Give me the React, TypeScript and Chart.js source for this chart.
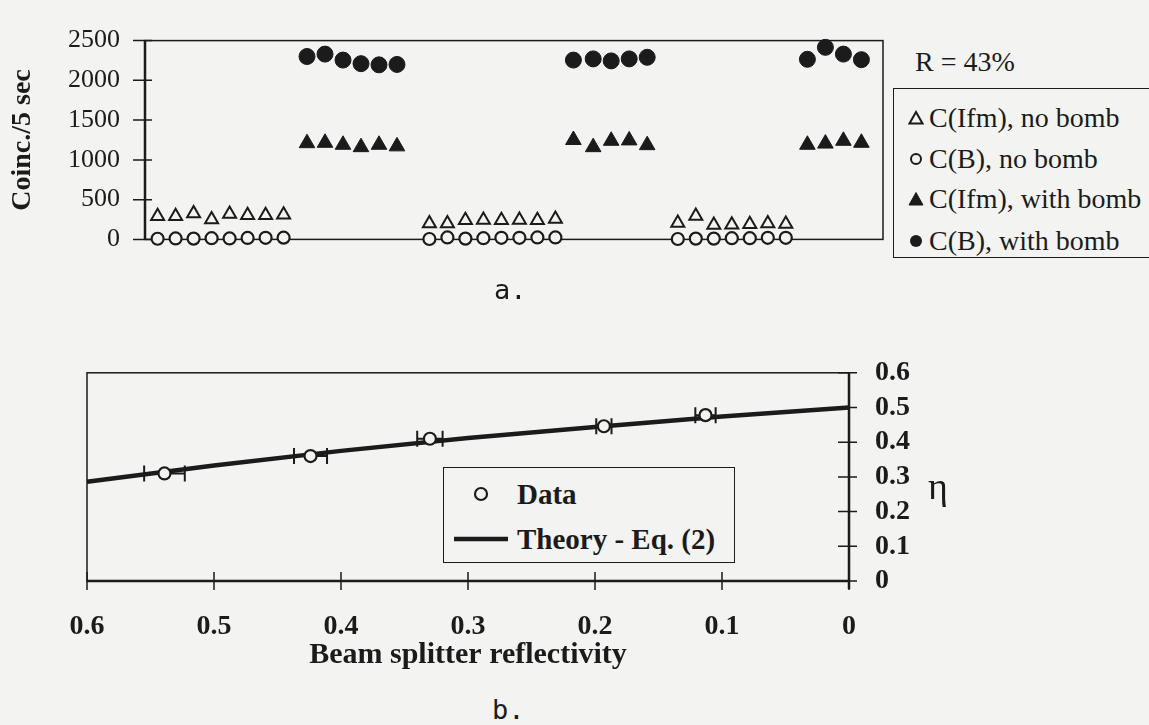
import React, { useEffect, useRef } from 'react';
import { Chart, registerables } from 'chart.js';

Chart.register(...registerables);

const BG = '#f3f3f1';
const INK = '#1b1b1b';
const SERIF = '"Liberation Serif", "Times New Roman", serif';
const MONO = '"DejaVu Sans Mono", monospace';

// ---------- Panel a: coincidence counts per 5 s, R = 43% ----------
const noBombRun = [0.7, 1.7, 2.7, 3.7, 4.7, 5.7, 6.7, 7.7, 15.8, 16.8, 17.8, 18.8, 19.8, 20.8, 21.8, 22.8, 29.6, 30.6, 31.6, 32.6, 33.6, 34.6, 35.6];
const ifmNoBomb = [290, 290, 325, 250, 320, 305, 305, 310, 200, 200, 240, 245, 240, 245, 240, 255, 205, 295, 180, 185, 190, 200, 195];
const bNoBomb = [8, 12, 10, 15, 12, 18, 20, 22, 5, 25, 10, 15, 20, 20, 25, 25, 5, 10, 10, 15, 15, 20, 20];
const withBombRun = [9, 10, 11, 12, 13, 14, 23.8, 24.9, 25.9, 26.9, 27.9, 36.8, 37.8, 38.8, 39.8];
const ifmWithBomb = [1210, 1215, 1190, 1160, 1190, 1170, 1250, 1160, 1240, 1245, 1185, 1190, 1205, 1240, 1215];
const bWithBomb = [2300, 2330, 2255, 2210, 2195, 2200, 2255, 2270, 2245, 2270, 2290, 2265, 2415, 2330, 2260];
const countTicks = [0, 500, 1000, 1500, 2000, 2500];
const seriesA = ['C(Ifm), no bomb', 'C(B), no bomb', 'C(Ifm), with bomb', 'C(B), with bomb'];

// ---------- Panel b: efficiency vs beam splitter reflectivity ----------
const reflectivity = [0.539, 0.424, 0.33, 0.193, 0.113];
const etaData = [0.31, 0.36, 0.41, 0.446, 0.478];
const reflErr = [0.016, 0.013, 0.01, 0.006, 0.008];
const theoryR = [0, 0.1, 0.2, 0.3, 0.4, 0.5, 0.6];
const theoryEta = [0.5, 0.474, 0.444, 0.412, 0.375, 0.333, 0.286];
const reflTicks = [0, 0.1, 0.2, 0.3, 0.4, 0.5, 0.6];
const etaTicks = [0, 0.1, 0.2, 0.3, 0.4, 0.5, 0.6];
const seriesB = ['Data', 'Theory - Eq. (2)'];

const pts = (xs: number[], ys: number[]) => xs.map((x, i) => ({ x, y: ys[i] }));
const fmt1 = (v: any) => String(Math.round(Number(v) * 10) / 10);

const topPlugin = {
  id: 'topFrame',
  beforeDatasetsDraw(chart: any) {
    const { ctx, chartArea: a, scales } = chart;
    const y = scales.y;
    ctx.save();
    ctx.strokeStyle = INK;
    ctx.lineWidth = 1.5;
    ctx.strokeRect(a.left, a.top, a.right - a.left, a.bottom - a.top);
    ctx.lineWidth = 2.5;
    ctx.beginPath();
    ctx.moveTo(a.left, a.top);
    ctx.lineTo(a.left, a.bottom);
    ctx.stroke();
    ctx.lineWidth = 1.5;
    ctx.beginPath();
    for (const t of countTicks) {
      const py = y.getPixelForValue(t);
      ctx.moveTo(a.left - 12, py);
      ctx.lineTo(a.left + 7, py);
    }
    ctx.stroke();
    ctx.restore();
  },
};

const bottomPlugin = {
  id: 'bottomFrame',
  beforeDatasetsDraw(chart: any) {
    const { ctx, chartArea: a, scales } = chart;
    const x = scales.x;
    const y = scales.y;
    ctx.save();
    ctx.strokeStyle = INK;
    ctx.lineWidth = 1.5;
    ctx.strokeRect(a.left, a.top, a.right - a.left, a.bottom - a.top);
    ctx.lineWidth = 2.5;
    ctx.beginPath();
    ctx.moveTo(a.right, a.top);
    ctx.lineTo(a.right, a.bottom + 8);
    ctx.moveTo(a.left, a.bottom);
    ctx.lineTo(a.right, a.bottom);
    ctx.stroke();
    ctx.lineWidth = 1.5;
    ctx.beginPath();
    for (const t of etaTicks) {
      const py = y.getPixelForValue(t);
      ctx.moveTo(a.right - 11, py);
      ctx.lineTo(a.right + 8, py);
    }
    for (const t of reflTicks) {
      const px = x.getPixelForValue(t);
      ctx.moveTo(px, a.bottom - 9);
      ctx.lineTo(px, a.bottom + 9);
    }
    ctx.stroke();
    // horizontal error bars on the data points
    ctx.lineWidth = 2;
    ctx.beginPath();
    reflectivity.forEach((r, i) => {
      const py = y.getPixelForValue(etaData[i]);
      const x1 = x.getPixelForValue(r - reflErr[i]);
      const x2 = x.getPixelForValue(r + reflErr[i]);
      ctx.moveTo(x1, py);
      ctx.lineTo(x2, py);
      ctx.moveTo(x1, py - 8);
      ctx.lineTo(x1, py + 8);
      ctx.moveTo(x2, py - 8);
      ctx.lineTo(x2, py + 8);
    });
    ctx.stroke();
    ctx.restore();
  },
};

function TopChart() {
  const ref = useRef<HTMLCanvasElement>(null);
  useEffect(() => {
    const chart = new Chart(ref.current as HTMLCanvasElement, {
      type: 'scatter',
      data: {
        datasets: [
          {
            label: seriesA[0],
            data: pts(noBombRun, ifmNoBomb),
            pointStyle: 'triangle',
            pointRadius: 7.5,
            borderWidth: 2,
            borderColor: INK,
            backgroundColor: BG,
            clip: false,
          },
          {
            label: seriesA[1],
            data: pts(noBombRun, bNoBomb),
            pointStyle: 'circle',
            pointRadius: 6,
            borderWidth: 2.2,
            borderColor: INK,
            backgroundColor: BG,
            clip: false,
          },
          {
            label: seriesA[2],
            data: pts(withBombRun, ifmWithBomb),
            pointStyle: 'triangle',
            pointRadius: 9,
            borderWidth: 1,
            borderColor: INK,
            backgroundColor: INK,
            clip: false,
          },
          {
            label: seriesA[3],
            data: pts(withBombRun, bWithBomb),
            pointStyle: 'circle',
            pointRadius: 8,
            borderWidth: 1,
            borderColor: INK,
            backgroundColor: INK,
            clip: false,
          },
        ],
      } as any,
      options: {
        animation: false,
        responsive: false,
        maintainAspectRatio: false,
        layout: { padding: { top: 32, right: 4, left: 0, bottom: 0 } },
        plugins: { legend: { display: false }, tooltip: { enabled: false } },
        scales: {
          x: {
            type: 'linear',
            min: 0,
            max: 41,
            ticks: { display: false },
            grid: { display: false, drawTicks: false },
            border: { display: false },
            afterFit: (s: any) => {
              s.height = 33;
            },
          },
          y: {
            min: 0,
            max: 2500,
            ticks: {
              stepSize: 500,
              padding: 25,
              autoSkip: false,
              color: INK,
              font: { family: SERIF, size: 26 },
              callback: (v: any) => String(v),
            },
            grid: { display: false, drawTicks: false },
            border: { display: false },
            title: {
              display: true,
              text: 'Coinc./5 sec',
              color: INK,
              font: { family: SERIF, size: 28, weight: 'bold' },
              padding: { top: 6, bottom: 4 },
            },
            afterFit: (s: any) => {
              s.width = 145;
            },
          },
        },
      } as any,
      plugins: [topPlugin],
    });
    return () => chart.destroy();
  }, []);
  return <canvas ref={ref} width={893} height={280} style={{ position: 'absolute', left: 0, top: 0 }} />;
}

function BottomChart() {
  const ref = useRef<HTMLCanvasElement>(null);
  useEffect(() => {
    const chart = new Chart(ref.current as HTMLCanvasElement, {
      type: 'scatter',
      data: {
        datasets: [
          {
            label: seriesB[0],
            data: pts(reflectivity, etaData),
            pointStyle: 'circle',
            pointRadius: 6,
            borderWidth: 2.2,
            borderColor: INK,
            backgroundColor: BG,
            order: 0,
            clip: false,
          },
          {
            label: seriesB[1],
            data: pts(theoryR, theoryEta),
            showLine: true,
            pointRadius: 0,
            borderWidth: 4.5,
            borderColor: INK,
            order: 1,
            clip: false,
          },
        ],
      } as any,
      options: {
        animation: false,
        responsive: false,
        maintainAspectRatio: false,
        layout: { padding: { top: 28, right: 0, left: 87, bottom: 0 } },
        plugins: { legend: { display: false }, tooltip: { enabled: false } },
        scales: {
          x: {
            type: 'linear',
            reverse: true,
            min: 0,
            max: 0.6,
            ticks: {
              stepSize: 0.1,
              padding: 29,
              autoSkip: false,
              color: INK,
              maxRotation: 0,
              font: { family: SERIF, size: 28, weight: 'bold' },
              callback: fmt1,
            },
            grid: { display: false, drawTicks: false },
            border: { display: false },
            title: {
              display: true,
              text: 'Beam splitter reflectivity',
              color: INK,
              font: { family: SERIF, size: 30, weight: 'bold' },
              padding: { top: 0, bottom: 7 },
            },
            afterFit: (s: any) => {
              s.height = 99;
            },
          },
          y: {
            position: 'right',
            min: 0,
            max: 0.6,
            ticks: {
              stepSize: 0.1,
              padding: 26,
              autoSkip: false,
              color: INK,
              font: { family: SERIF, size: 28, weight: 'bold' },
              callback: fmt1,
            },
            grid: { display: false, drawTicks: false },
            border: { display: false },
            afterFit: (s: any) => {
              s.width = 151;
            },
          },
        },
      } as any,
      plugins: [bottomPlugin],
    });
    return () => chart.destroy();
  }, []);
  return <canvas ref={ref} width={1000} height={350} style={{ position: 'absolute', left: 0, top: 330 }} />;
}

function MarkerA({ kind }: { kind: number }) {
  const common = { stroke: INK, strokeWidth: 2 };
  let shape;
  if (kind === 0) shape = <polygon points="8,2 14.5,13.5 1.5,13.5" fill="none" {...common} />;
  else if (kind === 1) shape = <circle cx="8" cy="8" r="5" fill="none" {...common} />;
  else if (kind === 2) shape = <polygon points="8,1.5 15,14 1,14" fill={INK} stroke={INK} strokeWidth={1} />;
  else shape = <circle cx="8" cy="8" r="6" fill={INK} />;
  return (
    <svg width={16} height={16} style={{ position: 'absolute', left: 14, top: -8 }}>
      {shape}
    </svg>
  );
}

const textBase: React.CSSProperties = { position: 'absolute', whiteSpace: 'nowrap', color: INK };

export default function App() {
  const rowsA = [117, 158, 198, 240];
  return (
    <div
      style={{
        position: 'absolute',
        left: 0,
        top: 0,
        width: 1149,
        height: 725,
        overflow: 'hidden',
        background: BG,
      }}
    >
      <TopChart />
      <BottomChart />

      {/* Panel a annotations and legend */}
      <div style={{ ...textBase, left: 915, top: 45, fontFamily: SERIF, fontSize: 28, lineHeight: '34px' }}>R = 43%</div>
      <div
        style={{
          position: 'absolute',
          left: 893,
          top: 88,
          width: 290,
          height: 170,
          border: `1.5px solid ${INK}`,
          boxSizing: 'border-box',
        }}
      >
        {seriesA.map((s, i) => (
          <div key={s} style={{ position: 'absolute', left: 0, top: rowsA[i] - 88 }}>
            <MarkerA kind={i} />
            <div style={{ ...textBase, left: 35, top: -16, fontFamily: SERIF, fontSize: 28, lineHeight: '32px' }}>{s}</div>
          </div>
        ))}
      </div>
      <div style={{ ...textBase, left: 494, top: 274, fontFamily: MONO, fontSize: 27, lineHeight: '32px' }}>a.</div>

      {/* Panel b annotations and legend */}
      <div
        style={{
          position: 'absolute',
          left: 443,
          top: 467,
          width: 292,
          height: 96,
          border: `1.5px solid ${INK}`,
          boxSizing: 'border-box',
          background: BG,
        }}
      >
        <svg width={70} height={96} style={{ position: 'absolute', left: 0, top: 0 }}>
          <circle cx={37} cy={26} r={6} fill="none" stroke={INK} strokeWidth={2.2} />
          <line x1={10} y1={71} x2={64} y2={71} stroke={INK} strokeWidth={4.5} />
        </svg>
        <div style={{ ...textBase, left: 73, top: 9, fontFamily: SERIF, fontSize: 29, fontWeight: 'bold', lineHeight: '34px' }}>
          {seriesB[0]}
        </div>
        <div style={{ ...textBase, left: 73, top: 54, fontFamily: SERIF, fontSize: 29, fontWeight: 'bold', lineHeight: '34px' }}>
          {seriesB[1]}
        </div>
      </div>
      <div style={{ ...textBase, left: 928, top: 464, fontFamily: SERIF, fontSize: 38, lineHeight: '44px' }}>η</div>
      <div style={{ ...textBase, left: 492, top: 694, fontFamily: MONO, fontSize: 27, lineHeight: '32px' }}>b.</div>
    </div>
  );
}
